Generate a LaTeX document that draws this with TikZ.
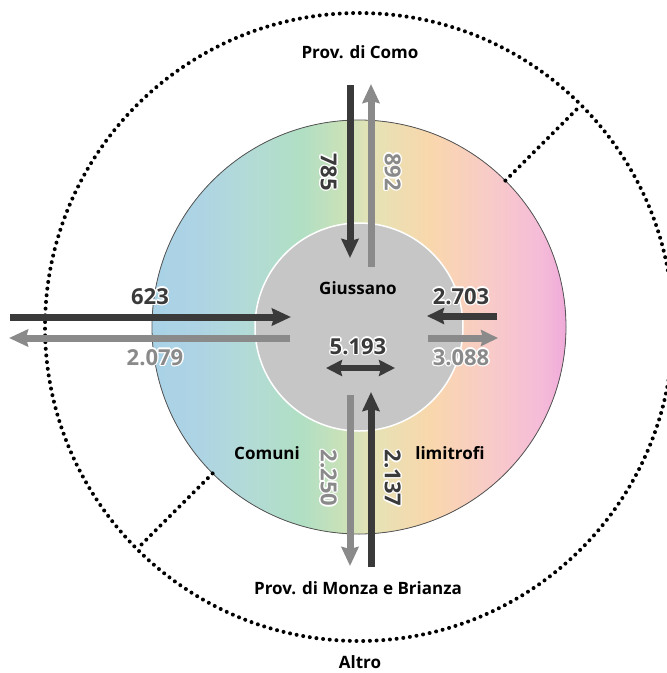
\documentclass[tikz,border=0pt]{standalone}
\usepackage{fontspec}
\setmainfont{Open Sans}
\usepackage[copies]{contour}
\contourlength{1.3pt}
\contournumber{12}
\usetikzlibrary{arrows.meta}
\definecolor{darkarr}{HTML}{3A3A3A}
\definecolor{grayarr}{HTML}{8A8A8A}
\definecolor{innergray}{HTML}{C6C6C6}
\definecolor{ringline}{HTML}{555555}
\definecolor{cA}{HTML}{A9D2E6}
\definecolor{cB}{HTML}{AED4E4}
\definecolor{cC}{HTML}{B3DBD6}
\definecolor{cD}{HTML}{B0DFC4}
\definecolor{cE}{HTML}{C8E1B9}
\definecolor{cF}{HTML}{E4E3B6}
\definecolor{cG}{HTML}{F9D7AC}
\definecolor{cH}{HTML}{F8CBC8}
\definecolor{cI}{HTML}{F5BCD8}
\definecolor{cJ}{HTML}{EFAAD9}
\pgfdeclarehorizontalshading{rainbow}{100bp}{color(0bp)=(cA); color(25bp)=(cA); color(30.8bp)=(cB); color(36.8bp)=(cC); color(42.9bp)=(cD); color(47.7bp)=(cE); color(51.3bp)=(cF); color(58.6bp)=(cG); color(65.8bp)=(cH); color(71.9bp)=(cI); color(75bp)=(cJ); color(100bp)=(cJ)}
\tikzset{
  dotline/.style={line width=4pt, line cap=round, dash pattern=on 0pt off 6.7pt, black},
  flowarr/.style={line width=7pt, -{Stealth[length=19pt,width=17pt,inset=2pt]}},
  darkflow/.style={flowarr, darkarr},
  grayflow/.style={flowarr, grayarr},
  title/.style={font=\bfseries\fontsize{17}{19}\selectfont, text=black, inner sep=0pt},
  numdark/.style={font=\bfseries\fontsize{22}{24}\selectfont, text=darkarr, inner sep=0pt},
  numgray/.style={font=\bfseries\fontsize{22}{24}\selectfont, text=grayarr, inner sep=0pt},
}
\begin{document}
\begin{tikzpicture}[x=1pt,y=-1pt]
\useasboundingbox (0,0) rectangle (667,673);
\clip (0,0) rectangle (667,673);
% outer dotted circle
\coordinate (C) at (359,327);
\draw[dotline] (C) circle[radius=314];
% rings
\fill[shading=rainbow] (C) circle[radius=207];
\draw[ringline, line width=0.8pt] (C) circle[radius=207];
\draw[dotline] (C) ++(146.4,-146.4) -- ++(75.6,-75.6);
\draw[dotline] (C) ++(-146.4,146.4) -- ++(-75.6,75.6);
\fill[innergray] (C) circle[radius=104];
\draw[white, line width=1.5pt] (C) circle[radius=104];
% labels
\node[title] (como) at (360,52) {Prov. di Como};
\node[title] (altro) at (360,662) {Altro};
\node[title] (monza) at (358,588) {Prov. di Monza e Brianza};
\node[title] (giussano) at (358,288) {Giussano};
\node[title] (comuni) at (267,453) {Comuni};
\node[title] (limitrofi) at (450,453) {limitrofi};
% arrow endpoints
\coordinate (t1a) at (350,85); \coordinate (t1b) at (350,258);
\coordinate (t2a) at (371,267); \coordinate (t2b) at (371,84);
\coordinate (l1a) at (10,317); \coordinate (l1b) at (291,317);
\coordinate (l2a) at (290,338); \coordinate (l2b) at (9,338);
\coordinate (r1a) at (497,316); \coordinate (r1b) at (427,316);
\coordinate (r2a) at (428,338); \coordinate (r2b) at (498,338);
\coordinate (b1a) at (350,395); \coordinate (b1b) at (350,566);
\coordinate (b2a) at (371,567); \coordinate (b2b) at (371,392);
\coordinate (d1) at (326,368); \coordinate (d2) at (395,368);
\draw[darkflow] (t1a) -- (t1b);
\draw[grayflow] (t2a) -- (t2b);
\draw[darkflow] (l1a) -- (l1b);
\draw[grayflow] (l2a) -- (l2b);
\draw[darkflow, -{Stealth[length=17pt,width=16pt,inset=2pt]}] (r1a) -- (r1b);
\draw[grayflow, -{Stealth[length=17pt,width=16pt,inset=2pt]}] (r2a) -- (r2b);
\draw[grayflow] (b1a) -- (b1b);
\draw[darkflow] (b2a) -- (b2b);
\draw[darkarr, line width=6pt, {Stealth[length=16pt,width=16pt,inset=2pt]}-{Stealth[length=16pt,width=16pt,inset=2pt]}] (d1) -- (d2);
% numbers
\node[numdark] (n623) at (150,297) {\contour{white}{623}};
\node[numgray] (n2079) at (155,358) {\contour{white}{2.079}};
\node[numdark] (n2703) at (461,297) {\contour{white}{2.703}};
\node[numgray] (n3088) at (461,358) {\contour{white}{3.088}};
\node[numdark] (n5193) at (358,347) {\contour{white}{5.193}};
\node[numdark, rotate=-90] (n785) at (328,172) {\contour{white}{785}};
\node[numgray, rotate=-90] (n892) at (392,172) {\contour{white}{892}};
\node[numgray, rotate=-90] (n2250) at (328,478) {\contour{white}{2.250}};
\node[numdark, rotate=-90] (n2137) at (392,478) {\contour{white}{2.137}};
\end{tikzpicture}
\end{document}
